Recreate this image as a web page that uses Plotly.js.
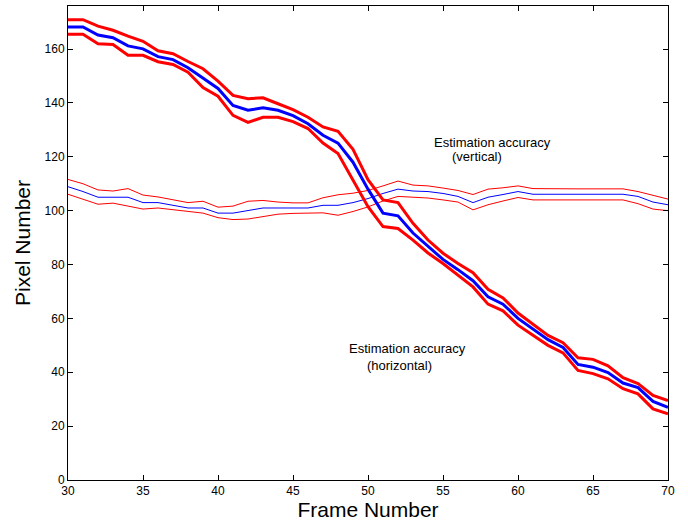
<!DOCTYPE html>
<html>
<head>
<meta charset="utf-8">
<script src="https://cdn.plot.ly/plotly-3.0.1.min.js"></script>
<style>html,body{margin:0;padding:0;background:#fff;}#chart{width:688px;height:522px;}</style>
</head>
<body>
<div id="chart"></div>
<script>
const frames = [30,31,32,33,34,35,36,37,38,39,40,41,42,43,44,45,46,47,48,49,50,51,52,53,54,55,56,57,58,59,60,61,62,63,64,65,66,67,68,69,70];

// Horizontal position estimate (thick) with accuracy bounds
const horizEst = [168.2,168.2,165.2,164.2,161.2,160.1,157.2,156.1,153.1,149.3,145.4,139.1,137.3,138.2,137.3,135.3,132.3,128.0,125.1,118.0,108.0,99.1,98.1,91.7,86.8,81.9,78.1,74.0,68.0,65.3,60.0,56.0,52.1,49.2,42.9,41.9,39.9,36.0,34.3,29.2,27.0];
const horizUpper = [170.9,170.9,168.5,167.0,164.8,162.9,159.4,158.3,155.4,152.7,148.1,142.8,141.6,141.9,139.7,137.5,134.7,131.1,129.5,122.8,111.5,104.0,103.0,95.3,89.1,84.2,80.4,77.0,70.8,67.6,62.0,57.8,53.7,51.0,45.4,44.8,42.4,38.0,35.8,31.4,29.5];
const horizLower = [165.5,165.5,162.0,161.7,157.7,157.7,155.3,154.3,151.4,145.7,142.5,135.4,132.8,134.7,134.7,133.1,130.5,125.1,121.2,111.5,101.5,94.1,93.4,89.1,84.3,80.4,76.1,71.7,65.3,62.8,57.5,53.7,50.0,47.2,40.7,39.5,37.6,33.9,32.0,26.4,24.6];

// Vertical position estimate (thin) with accuracy bounds
const vertEst = [108.9,107.1,105.0,105.0,105.0,103.0,103.0,102.0,101.0,101.0,99.1,99.1,100.0,101.0,101.0,101.0,101.0,102.0,102.0,103.0,104.5,106.4,108.0,107.3,107.1,106.4,105.3,103.0,105.0,106.0,107.1,106.1,106.1,106.1,106.1,106.1,106.1,106.1,105.3,103.2,102.2];
const vertUpper = [111.6,110.0,107.7,107.3,108.2,105.8,105.1,104.0,103.0,103.5,101.3,101.7,103.5,103.8,103.2,102.9,102.9,104.8,105.9,106.5,107.5,109.2,111.0,109.5,109.2,108.4,107.5,106.0,108.0,108.5,109.2,108.2,108.1,108.1,108.1,108.1,108.1,108.1,107.1,105.6,104.3];
const vertLower = [106.1,104.3,102.4,102.8,101.8,100.6,101.0,100.3,99.6,99.1,97.4,96.7,96.9,97.9,98.7,99.0,99.0,99.2,98.3,99.7,101.4,103.6,105.3,104.9,104.7,104.0,103.2,100.3,102.2,103.6,104.9,104.0,104.0,104.0,104.0,104.0,104.0,104.0,102.6,100.6,100.0];

const xTicks = [30,35,40,45,50,55,60,65,70];
const yTicks = [0,20,40,60,80,100,120,140,160];

const RED = '#ff0000', BLUE = '#0000ff';
function tr(y, color, width){
  return {x: frames, y: y, type:'scatter', mode:'lines', line:{color:color, width:width}, hoverinfo:'skip', showlegend:false};
}
const data = [
  tr(vertUpper, RED, 1), tr(vertLower, RED, 1), tr(vertEst, BLUE, 1),
  tr(horizUpper, RED, 3), tr(horizLower, RED, 3), tr(horizEst, BLUE, 3)
];

const font = 'Liberation Sans, Arial, Helvetica, sans-serif';
const annFont = {family: font, size: 13, color:'#000'};
const layout = {
  width: 688, height: 522,
  margin: {l:68, r:20, t:6, b:42, pad:0},
  paper_bgcolor:'#fff', plot_bgcolor:'#fff',
  showlegend:false,
  font:{family:font, color:'#000'},
  xaxis: {
    range:[30,70], tickvals:xTicks, ticktext:xTicks.map(String),
    ticks:'inside', ticklen:5, tickwidth:1, tickcolor:'#000',
    showline:true, linecolor:'#000', linewidth:1, mirror:'ticks',
    showgrid:false, zeroline:false,
    tickfont:{family:font, size:12, color:'#000'},
    title:{text:'Frame Number', font:{family:font, size:21, color:'#000'}, standoff:4}
  },
  yaxis: {
    range:[0,176], tickvals:yTicks, ticktext:yTicks.map(String),
    ticks:'inside', ticklen:5, tickwidth:1, tickcolor:'#000',
    showline:true, linecolor:'#000', linewidth:1, mirror:'ticks',
    showgrid:false, zeroline:false,
    tickfont:{family:font, size:12, color:'#000'},
    title:{text:'Pixel Number', font:{family:font, size:21, color:'#000'}, standoff:8}
  },
  annotations: [
    {x:58.27, y:125.3, xref:'x', yref:'y', text:'Estimation accuracy', showarrow:false, font:annFont},
    {x:57.27, y:120.0, xref:'x', yref:'y', text:'(vertical)', showarrow:false, font:annFont},
    {x:52.6, y:49.0, xref:'x', yref:'y', text:'Estimation accuracy', showarrow:false, font:annFont},
    {x:52.1, y:42.6, xref:'x', yref:'y', text:'(horizontal)', showarrow:false, font:annFont}
  ]
};
Plotly.newPlot('chart', data, layout, {displayModeBar:false, staticPlot:true});
</script>
</body>
</html>
